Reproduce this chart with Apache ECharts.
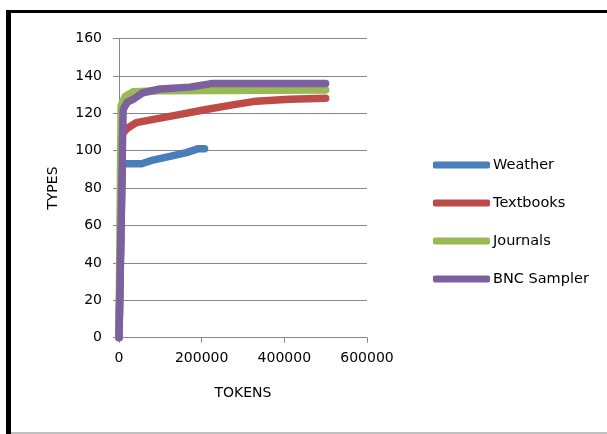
<!DOCTYPE html>
<html>
<head>
<meta charset="utf-8">
<script src="https://cdn.jsdelivr.net/npm/echarts@6/dist/echarts.min.js"></script>
<style>
  html, body { margin: 0; padding: 0; background: #fff; }
  #chart { width: 607px; height: 434px; }
</style>
</head>
<body>
<div id="chart"></div>
<script>
// values
var seriesNames = ['Weather', 'Textbooks', 'Journals', 'BNC Sampler'];
var seriesColors = ['#4a7ebb', '#be4b48', '#98b954', '#7d60a0'];

var weatherTokens = [0, 8000, 55000, 82000, 123000, 163000, 190000, 207000];
var weatherTypes  = [0, 93, 93, 95, 97, 99, 101, 101];

var textbookTokens = [0, 8000, 20000, 42000, 90000, 139000, 211000, 275000, 332000, 412000, 500000];
var textbookTypes  = [0, 109, 112, 115, 117, 119, 122, 124.5, 126.5, 127.5, 128];

var journalTokens = [0, 5000, 15000, 34000, 100000, 500000];
var journalTypes  = [0, 124, 129, 131.5, 132, 132.5];

var bncTokens = [0, 10000, 20000, 34000, 58000, 99000, 171000, 227000, 500000];
var bncTypes  = [0, 122, 126, 127.5, 131, 133, 134, 136, 136];

var xTicks = [0, 200000, 400000, 600000];
var yTicks = [0, 20, 40, 60, 80, 100, 120, 140, 160];

function pairs(xs, ys) {
    return xs.map(function(x, i) { return [x, ys[i]]; });
}
var seriesData = [
    pairs(weatherTokens, weatherTypes),
    pairs(textbookTokens, textbookTypes),
    pairs(journalTokens, journalTypes),
    pairs(bncTokens, bncTypes)
];

var font = '"DejaVu Sans", sans-serif';
var gridColor = '#878787';

var chart = echarts.init(document.getElementById('chart'));
chart.setOption({
    animation: false,
    textStyle: { fontFamily: font },
    grid: { left: 119, right: 240, top: 38.5, bottom: 96.3 },
    graphic: [
        { type: 'rect', shape: { x: 6, y: 10, width: 5, height: 424 }, style: { fill: '#000' } },
        { type: 'rect', shape: { x: 6, y: 10, width: 601, height: 3 }, style: { fill: '#000' } },
        { type: 'rect', shape: { x: 11, y: 432, width: 596, height: 2 }, style: { fill: '#c0c0c0' } }
    ],
    legend: {
        orient: 'vertical',
        left: 433,
        top: 157,
        padding: 0,
        itemWidth: 57,
        itemHeight: 7,
        itemGap: 22,
        icon: 'roundRect',
        textStyle: { fontFamily: font, fontSize: 14.5, color: '#000', lineHeight: 16, padding: [0, 0, 0, -2] },
        data: seriesNames
    },
    xAxis: {
        type: 'value',
        min: xTicks[0],
        max: xTicks[xTicks.length - 1],
        interval: xTicks[1] - xTicks[0],
        name: 'TOKENS',
        nameLocation: 'middle',
        nameGap: 49,
        nameTextStyle: { fontFamily: font, fontSize: 14, color: '#000' },
        splitLine: { show: false },
        axisLine: { lineStyle: { color: gridColor, width: 1 } },
        axisTick: { show: true, length: 5, lineStyle: { color: gridColor } },
        axisLabel: {
            fontFamily: font, fontSize: 14, color: '#000', margin: 14,
            formatter: function(v) { return String(v); }
        }
    },
    yAxis: {
        type: 'value',
        min: yTicks[0],
        max: yTicks[yTicks.length - 1],
        interval: yTicks[1] - yTicks[0],
        name: 'TYPES',
        nameLocation: 'middle',
        nameGap: 59,
        nameTextStyle: { fontFamily: font, fontSize: 14, color: '#000' },
        splitLine: { show: true, lineStyle: { color: gridColor, width: 1 } },
        axisLine: { show: true, lineStyle: { color: gridColor, width: 1 } },
        axisTick: { show: true, length: 6, lineStyle: { color: gridColor } },
        axisLabel: { fontFamily: font, fontSize: 14, color: '#000', margin: 17 }
    },
    series: seriesNames.map(function(name, i) {
        return {
            name: name,
            type: 'line',
            data: seriesData[i],
            showSymbol: false,
            symbol: 'none',
            color: seriesColors[i],
            lineStyle: { width: 7.5, color: seriesColors[i], cap: 'round', join: 'round' },
            z: 2 + i
        };
    })
});
</script>
</body>
</html>
